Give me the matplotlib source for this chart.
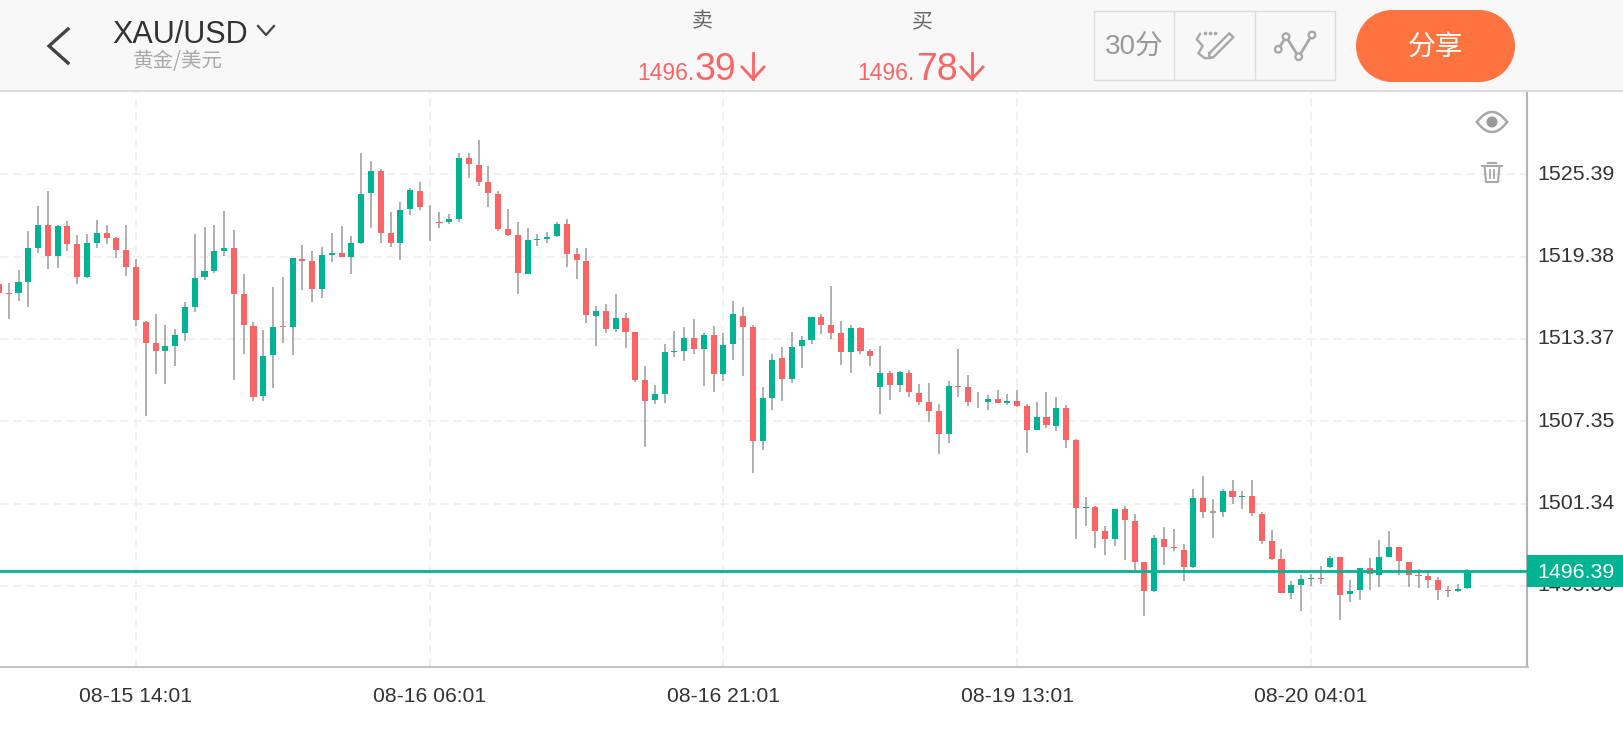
import numpy as np
import matplotlib
matplotlib.use("Agg")
import matplotlib.pyplot as plt
from matplotlib.patches import Rectangle, Circle, Ellipse
from matplotlib.transforms import ScaledTranslation

# candle values (oldest first)
opens = [1517.39,1516.70,1516.70,1517.51,1520.04,1521.69,1519.41,1521.64,1520.28,1517.92,
         1520.40,1521.13,1520.74,1519.87,1518.60,1514.59,1513.08,1512.50,1512.84,1513.76,
         1515.73,1517.85,1518.36,1519.79,1519.97,1516.63,1514.32,1509.19,1512.18,1514.30,
         1514.25,1519.23,1519.04,1517.04,1519.50,1519.67,1519.38,1520.40,1524.03,1525.63,
         1521.08,1520.38,1522.86,1524.20,1521.93,1521.88,1521.88,1522.15,1526.60,1526.09,
         1524.80,1523.93,1521.42,1520.94,1518.14,1520.60,1520.64,1520.86,1521.74,1519.55,
         1519.09,1515.05,1515.42,1514.10,1514.88,1513.87,1510.33,1508.87,1509.33,1512.40,
         1512.47,1513.45,1512.64,1513.66,1510.79,1512.98,1515.05,1514.20,1505.90,1509.04,
         1511.96,1510.43,1512.81,1513.30,1515.00,1514.35,1513.79,1512.42,1514.13,1512.47,
         1509.86,1510.86,1510.01,1510.91,1509.43,1508.74,1508.09,1506.41,1509.91,1509.84,
         1508.79,1508.72,1508.94,1508.70,1508.82,1508.43,1506.70,1507.63,1507.02,1508.31,
         1505.97,1500.98,1501.06,1499.30,1498.75,1500.93,1500.08,1497.04,1494.97,1498.78,
         1498.17,1497.93,1496.67,1501.75,1500.70,1500.73,1502.24,1501.82,1501.90,1500.61,
         1498.59,1497.32,1494.79,1495.38,1495.84,1495.89,1496.74,1497.42,1494.72,1495.01,
         1496.62,1496.15,1497.47,1498.13,1497.08,1496.11,1496.03,1495.77,1494.99,1494.94,
         1495.18]
closes = [1516.75,1516.61,1517.51,1520.04,1521.69,1519.43,1521.64,1520.33,1517.85,1520.38,
          1521.13,1520.77,1519.84,1518.60,1514.71,1513.10,1512.50,1512.81,1513.66,1515.70,
          1517.82,1518.31,1519.79,1519.99,1516.61,1514.39,1509.09,1512.13,1514.25,1514.25,
          1519.28,1519.06,1517.04,1519.48,1519.67,1519.38,1520.35,1523.98,1525.66,1521.11,
          1520.38,1522.81,1524.22,1522.98,1521.91,1521.84,1522.13,1526.60,1526.14,1524.80,
          1524.03,1521.40,1520.96,1518.16,1520.62,1520.64,1520.79,1521.74,1519.57,1519.11,
          1515.10,1515.42,1514.10,1514.88,1513.88,1510.36,1508.85,1509.31,1512.40,1512.45,
          1513.45,1512.64,1513.66,1510.77,1512.93,1515.15,1514.20,1505.93,1509.02,1511.86,
          1510.43,1512.79,1513.28,1514.97,1514.37,1513.81,1512.42,1514.13,1512.45,1512.13,
          1510.86,1510.01,1510.93,1509.45,1508.74,1508.09,1506.41,1509.94,1509.86,1508.79,
          1508.72,1508.96,1508.67,1508.82,1508.43,1506.68,1507.63,1507.04,1508.31,1505.95,
          1501.03,1501.06,1499.35,1498.72,1500.93,1500.16,1497.07,1494.97,1498.82,1498.20,
          1498.08,1496.67,1501.73,1500.70,1500.70,1502.24,1501.82,1501.87,1500.66,1498.61,
          1497.32,1494.79,1495.38,1495.86,1495.91,1495.84,1497.37,1494.69,1494.96,1496.64,
          1496.18,1497.47,1498.13,1497.13,1496.11,1496.08,1495.77,1495.01,1494.94,1495.13,
          1496.40]
highs = [1517.60,1517.43,1518.41,1521.21,1523.08,1524.17,1521.69,1521.96,1520.96,1521.03,
         1522.03,1521.69,1520.81,1521.69,1519.21,1514.64,1515.17,1514.39,1514.10,1516.07,
         1521.06,1521.52,1521.67,1522.69,1521.33,1518.09,1514.61,1514.00,1517.12,1517.92,
         1519.29,1520.21,1519.82,1520.11,1521.11,1521.64,1520.86,1526.92,1526.34,1525.75,
         1522.61,1523.37,1524.39,1524.85,1523.13,1522.64,1522.52,1526.97,1526.95,1527.87,
         1526.02,1524.15,1522.88,1521.93,1521.47,1521.06,1521.15,1521.88,1522.10,1520.04,
         1519.99,1515.78,1515.95,1516.66,1515.22,1513.88,1511.40,1510.02,1512.96,1513.96,
         1514.27,1514.83,1513.76,1514.30,1513.76,1516.15,1515.68,1514.35,1509.84,1512.23,
         1512.76,1513.88,1513.54,1514.98,1515.15,1517.24,1514.64,1514.39,1514.20,1512.61,
         1512.83,1511.01,1511.01,1511.08,1510.08,1510.13,1508.62,1510.28,1512.66,1510.76,
         1509.47,1509.26,1509.62,1509.33,1509.62,1508.60,1508.75,1509.47,1509.13,1508.53,
         1506.04,1501.81,1501.18,1499.69,1500.93,1501.13,1500.57,1497.04,1499.01,1499.66,
         1499.51,1498.39,1502.38,1503.33,1501.65,1502.38,1503.09,1502.26,1503.09,1500.73,
         1499.41,1498.00,1495.69,1496.11,1496.18,1496.76,1497.54,1497.42,1495.79,1496.64,
         1497.37,1498.66,1499.32,1498.13,1497.08,1496.59,1496.33,1495.96,1495.30,1495.50,
         1496.54]
lows = [1516.50,1514.83,1516.12,1515.68,1519.67,1518.48,1518.55,1519.75,1517.34,1517.80,
        1520.04,1520.33,1519.26,1517.99,1514.34,1507.77,1510.77,1510.09,1511.35,1513.18,
        1515.32,1517.65,1518.21,1519.45,1510.38,1512.27,1508.80,1508.85,1509.75,1513.10,
        1512.20,1516.95,1516.07,1516.36,1518.97,1519.36,1518.07,1520.30,1521.47,1520.40,
        1520.08,1519.16,1522.42,1522.81,1520.55,1521.47,1521.76,1521.91,1525.12,1524.54,
        1522.98,1521.25,1520.89,1516.65,1518.07,1520.13,1520.40,1520.81,1518.62,1517.75,
        1514.56,1512.84,1513.79,1513.88,1512.69,1510.21,1505.47,1508.60,1508.68,1512.01,
        1511.72,1512.25,1509.89,1509.50,1510.26,1511.79,1510.65,1503.59,1505.25,1508.17,
        1508.82,1510.14,1511.23,1512.96,1513.69,1513.35,1511.45,1510.89,1512.25,1511.40,
        1507.89,1508.89,1509.47,1509.13,1508.55,1507.26,1504.97,1505.78,1509.13,1508.48,
        1508.31,1508.16,1508.65,1508.57,1508.41,1505.02,1506.69,1506.87,1506.63,1505.41,
        1498.72,1499.67,1498.11,1497.60,1498.21,1497.21,1496.48,1493.15,1494.85,1496.86,
        1497.86,1495.69,1496.64,1500.29,1498.83,1500.39,1501.34,1500.95,1500.46,1498.42,
        1497.25,1494.77,1494.40,1493.50,1495.33,1495.47,1496.64,1492.85,1494.14,1494.31,
        1495.06,1495.25,1497.45,1496.15,1495.25,1495.18,1495.16,1494.26,1494.48,1494.87,
        1495.08]

price_ticks = [1525.39, 1519.38, 1513.37, 1507.35, 1501.34, 1495.33]
date_ticks = [0, 30, 60, 90, 120]
date_labels = ["08-15 14:01", "08-16 06:01", "08-16 21:01", "08-19 13:01", "08-20 04:01"]
last_price = 1496.39

GREEN = "#00b493"
RED = "#fb6464"
GRID = "#eeeeee"
ICON = "#a8a8a8"

fig = plt.figure(figsize=(16.24, 7.5), dpi=100, facecolor="white")

# main chart, placed by pixels of the 1624x750 canvas
ax = fig.add_axes([0, (750 - 667.3) / 750, 1527.5 / 1624, (667.3 - 91) / 750])

x = np.arange(-14, 137)
o = np.array(opens)
c = np.array(closes)
up = c > o
down = c < o
flat = c == o

ax.vlines(x, lows, highs, color="#9a9a9a", linewidth=1.1, zorder=2)
ax.bar(x[up], c[up] - o[up], bottom=o[up], width=0.62, color=GREEN, linewidth=0, zorder=3)
ax.bar(x[down], o[down] - c[down], bottom=c[down], width=0.62, color=RED, linewidth=0, zorder=3)
ax.hlines(c[flat], x[flat] - 0.31, x[flat] + 0.31, color="#9a9a9a", linewidth=1.2, zorder=3)
ax.axhline(last_price, color=GREEN, linewidth=2, zorder=4)

ax.set_xlim(-13.89, 142.13)
ax.set_ylim(1489.38, 1531.47)
ax.set_yticks(price_ticks)
ax.set_yticklabels(["%.2f" % p for p in price_ticks])
ax.set_xticks(date_ticks)
ax.set_xticklabels(date_labels)
ax.yaxis.tick_right()
ax.tick_params(axis="y", length=0, pad=7, labelsize=15.4, labelcolor="#333333")
ax.tick_params(axis="x", length=0, pad=14, labelsize=15.2, labelcolor="#333333")
for lab in ax.get_xticklabels() + ax.get_yticklabels():
    lab.set_family("Liberation Sans")
# nudge the price labels up 2 px
nudge = ScaledTranslation(0, 2 / 100, fig.dpi_scale_trans)
for lab in ax.get_yticklabels():
    lab.set_transform(lab.get_transform() + nudge)
ax.grid(True, color=GRID, linewidth=1.2, linestyle=(0, (5, 3)), zorder=0)
ax.set_axisbelow(True)
ax.spines["left"].set_visible(False)
ax.spines["top"].set_visible(False)
ax.spines["right"].set_color("#b4b4b4")
ax.spines["bottom"].set_color("#c4c4c4")
ax.spines["right"].set_linewidth(1.5)
ax.spines["bottom"].set_linewidth(1.5)

# app header and icons go on an overlay in pixel coordinates
ui = fig.add_axes([0, 0, 1, 1], zorder=5)
ui.set_xlim(0, 1624)
ui.set_ylim(750, 0)
ui.axis("off")
ui.patch.set_alpha(0)

cjk = ["Noto Sans CJK SC", "DejaVu Sans"]

ui.add_patch(Rectangle((0, 0), 1624, 90.5, color="#f8f8f8", linewidth=0))
ui.plot([0, 1624], [91, 91], color="#dcdcdc", linewidth=1.5)

ui.plot([68, 49, 68], [29, 46, 63], color="#444444", linewidth=2.4, solid_joinstyle="miter")
ui.text(112, 35, "XAU/USD", fontsize=22, family="Liberation Sans", color="#333333", va="center", ha="left")
ui.plot([258, 266, 274], [26, 35, 26], color="#444444", linewidth=1.6)
ui.text(133, 61, "黄金/美元", fontsize=14.8, family=cjk, color="#aaaaaa", va="center", ha="left")

ui.text(702, 21, "卖", fontsize=15, family=cjk, color="#666666", ha="center", va="center")
ui.text(922, 21, "买", fontsize=15, family=cjk, color="#666666", ha="center", va="center")

for left, small, big, mid, arrow_x in [(637, "1496.", "39", 695, 753), (857, "1496.", "78", 916, 972)]:
    ui.text(left, 80, small, fontsize=16.5, family="Liberation Sans", color=RED, ha="left", va="baseline")
    ui.text(mid, 80, big, fontsize=27, family="Liberation Sans", color=RED, ha="left", va="baseline")
    ui.plot([arrow_x, arrow_x], [53, 79], color=RED, linewidth=2)
    ui.plot([arrow_x - 11, arrow_x, arrow_x + 11], [67, 79, 67], color=RED, linewidth=2)

# toolbar
ui.add_patch(Rectangle((1094, 11), 241.5, 69, fill=False, edgecolor="#dcdce0", linewidth=1))
ui.plot([1174.5, 1174.5], [11, 80], color="#dcdce0", linewidth=1)
ui.plot([1255.3, 1255.3], [11, 80], color="#dcdce0", linewidth=1)
ui.text(1134, 47, "30分", fontsize=20, family=["Liberation Sans", "Noto Sans CJK SC"], color="#999999", ha="center", va="center")

# pen icon
ui.plot([1209.3, 1229.3, 1233.3, 1213.3, 1209.3, 1209.3], [53.3, 33.3, 37.3, 57.3, 58.3, 53.3], color=ICON, linewidth=1.7)
ui.plot([1200, 1196.7, 1202.7, 1198.3, 1205, 1213], [34, 39.3, 46, 53.3, 58.3, 57.3], color=ICON, linewidth=1.7)
ui.plot([1205, 1210, 1215], [33, 33, 33], linestyle="none", marker="o", markersize=1.6, color=ICON)

# line tool icon
node_x = [1278.3, 1286, 1298.7, 1312]
node_y = [49.3, 36.7, 56.7, 35]
ui.plot(node_x, node_y, color=ICON, linewidth=2)
for nx, ny in zip(node_x, node_y):
    ui.add_patch(Circle((nx, ny), 3.3, facecolor="#f8f8f8", edgecolor=ICON, linewidth=1.7, zorder=3))

# share button
ui.add_patch(Rectangle((1392, 10), 87, 72, color="#ff7340", linewidth=0))
ui.add_patch(Circle((1392, 46), 36, color="#ff7340", linewidth=0))
ui.add_patch(Circle((1479, 46), 36, color="#ff7340", linewidth=0))
ui.text(1436, 47, "分享", fontsize=20, family=cjk, color="white", ha="center", va="center")

# eye icon
t = np.linspace(-1, 1, 40)
ui.plot(1492 + 15 * t, 122 - 10 * (1 - t ** 2), color=ICON, linewidth=1.8)
ui.plot(1492 + 15 * t, 122 + 10 * (1 - t ** 2), color=ICON, linewidth=1.8)
ui.add_patch(Ellipse((1492, 122), 11, 11, color="#999999", linewidth=0))

# trash icon
ui.plot([1482, 1502], [166, 166], color=ICON, linewidth=1.5)
ui.plot([1488, 1496], [162.5, 162.5], color=ICON, linewidth=1.5)
ui.plot([1484.5, 1486, 1498, 1499.5], [166, 182, 182, 166], color=ICON, linewidth=1.5)
ui.plot([1490, 1490], [170, 178], color=ICON, linewidth=1.3)
ui.plot([1494, 1494], [170, 178], color=ICON, linewidth=1.3)

# last price tag over the axis labels
ui.add_patch(Rectangle((1527.5, 555), 96.5, 32, color=GREEN, linewidth=0, zorder=4))
ui.text(1576, 572, "%.2f" % last_price, fontsize=15.4, family="Liberation Sans", color="white", ha="center", va="center", zorder=5)

fig.savefig("out.png", dpi=100)
